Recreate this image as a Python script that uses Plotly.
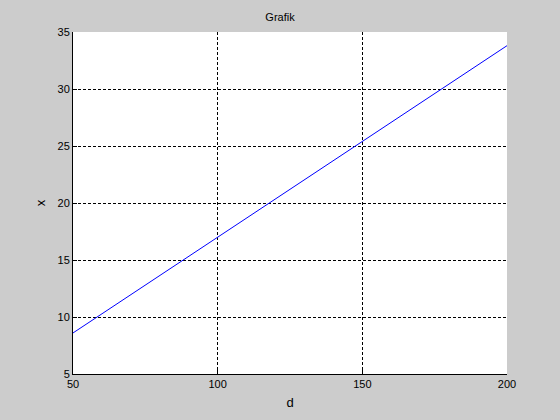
import plotly.graph_objects as go

d = [50, 100, 150, 200]
x = [8.6, 17.0, 25.4, 33.8]
xticks = [50, 100, 150, 200]
yticks = [5, 10, 15, 20, 25, 30, 35]

fig = go.Figure()
fig.add_trace(go.Scatter(x=d, y=x, mode="lines", line=dict(color="#0000ff", width=1), showlegend=False))

font = dict(family="Liberation Sans, Arial, sans-serif", size=11, color="black")
fig.update_layout(
    width=560, height=420,
    margin=dict(l=73, r=53, t=32, b=46),
    paper_bgcolor="#cccccc", plot_bgcolor="white",
    font=font,
    title=dict(text="Grafik", x=0.5, xanchor="center", y=1 - 17/420, yanchor="middle", font=dict(size=11)),
    xaxis=dict(range=[50, 200], tickvals=xticks, showgrid=True, gridcolor="black", griddash="3px,2px", gridwidth=1,
               showline=True, linecolor="black", linewidth=1, ticks="inside", ticklen=4, tickcolor="black",
               zeroline=False, title=dict(text="d", standoff=8), mirror=False),
    yaxis=dict(range=[5, 35], tickvals=yticks, showgrid=True, gridcolor="black", griddash="3px,2px", gridwidth=1,
               showline=True, linecolor="black", linewidth=1, ticks="inside", ticklen=4, tickcolor="black",
               zeroline=False, title=dict(text="x", standoff=8), mirror=False),
)
fig.write_html("out.html", config={"displayModeBar": False},
               post_script="document.body.style.margin='0';document.body.style.background='#cccccc';")
